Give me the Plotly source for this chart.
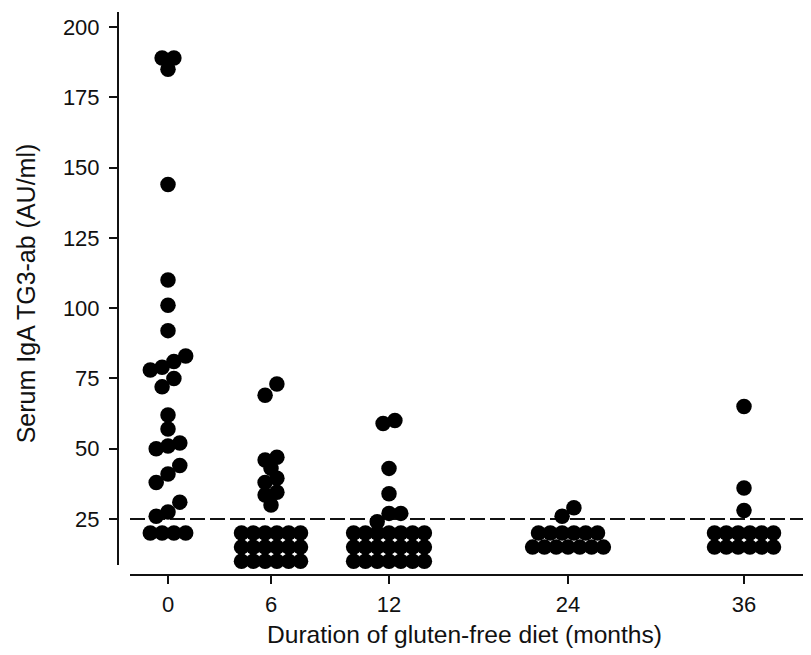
import plotly.graph_objects as go

# ---- data -------------------------------------------------------------
months = ["0", "6", "12", "24", "36"]
# serum IgA TG3-ab values (AU/ml), grouped by swarm row (top to bottom)
rows_0 = [[189, 189], [185], [144], [110], [101], [92], [78, 79, 81, 83], [72, 75],
          [62], [57], [50, 51, 52], [38, 41, 44], [26, 27.5, 31], [20, 20, 20, 20]]
rows_6 = [[69, 73], [46, 47], [43], [38, 39.5], [33.5, 34.5], [30],
          [20] * 6, [15] * 6, [10] * 6]
rows_12 = [[59, 60], [43], [34], [24, 27, 27], [20] * 7, [15] * 7, [10] * 7]
rows_24 = [[26, 29], [20] * 6, [15] * 7]
rows_36 = [[65], [36], [28], [20] * 6, [15] * 6]
groups = [rows_0, rows_6, rows_12, rows_24, rows_36]
cutoff = 25
y_ticks = [25, 50, 75, 100, 125, 150, 175, 200]

# ---- layout constants --------------------------------------------------
# the page body has an 8px margin, so the figure is shrunk by that amount
OFF = 8
W, H = 811 - OFF, 655 - OFF
L, R, T, B = 118 - OFF, 0, 12 - OFF, 80
plot_w = W - L - R          # 693 px
plot_h = H - T - B          # 563 px
page_left = L + OFF         # 118
page_bottom = T + OFF + plot_h  # 575

slot_x = [168, 271, 389, 568, 744]   # category centres (x axis in page-px units)
dot_gap = 11.8                        # horizontal swarm spacing
x_range = [page_left, page_left + plot_w]
px_per_unit = (519 - 27) / 175.0
y_top = 200 + (27 - (T + OFF)) / px_per_unit
y_bot = 25 - (page_bottom - 519) / px_per_unit
INK = "#111111"
FONT = "Liberation Sans, Arial, sans-serif"

xs, ys = [], []
for cx, rows in zip(slot_x, groups):
    for row in rows:
        vals = sorted(row)
        n = len(vals)
        for i, v in enumerate(vals):
            xs.append(cx + (i - (n - 1) / 2.0) * dot_gap)
            ys.append(v)

fig = go.Figure()
fig.add_trace(go.Scatter(
    x=xs, y=ys, mode="markers",
    marker=dict(size=15.5, color="black", line=dict(width=0)),
    hoverinfo="y", showlegend=False,
))

x_axis_start = (130 - page_left) / plot_w
y_axis_bottom = (page_bottom - 565) / plot_h

shapes = [
    # dashed cut-off line
    dict(type="line", xref="paper", yref="y", x0=x_axis_start, x1=1,
         y0=cutoff, y1=cutoff, layer="below",
         line=dict(color=INK, width=1.8, dash="15px,5px")),
    # y axis line
    dict(type="line", xref="paper", yref="paper", x0=0, x1=0,
         y0=y_axis_bottom, y1=1, line=dict(color=INK, width=2)),
    # x axis line
    dict(type="line", xref="paper", yref="paper", x0=x_axis_start, x1=1,
         y0=0, y1=0, line=dict(color=INK, width=2)),
]

fig.update_layout(
    width=W, height=H,
    margin=dict(l=L, r=R, t=T, b=B, pad=0),
    paper_bgcolor="white", plot_bgcolor="white",
    font=dict(family=FONT, color=INK),
    shapes=shapes,
    xaxis=dict(
        range=x_range, tickmode="array", tickvals=slot_x, ticktext=months,
        showgrid=False, zeroline=False, showline=False,
        ticks="outside", ticklen=8, tickwidth=2, tickcolor=INK,
        tickfont=dict(size=22, family=FONT, color=INK),
        ticklabelstandoff=2,
        title=dict(text="Duration of gluten-free diet (months)",
                   font=dict(size=24.6, family=FONT, color=INK), standoff=9),
    ),
    yaxis=dict(
        range=[y_bot, y_top], tickmode="array", tickvals=y_ticks,
        showgrid=False, zeroline=False, showline=False,
        ticks="outside", ticklen=8, tickwidth=2, tickcolor=INK,
        tickfont=dict(size=22, family=FONT, color=INK),
        ticklabelstandoff=5,
        title=dict(text="Serum IgA TG3-ab (AU/ml)",
                   font=dict(size=25, family=FONT, color=INK), standoff=20),
    ),
)

fig.write_html("out.html")
